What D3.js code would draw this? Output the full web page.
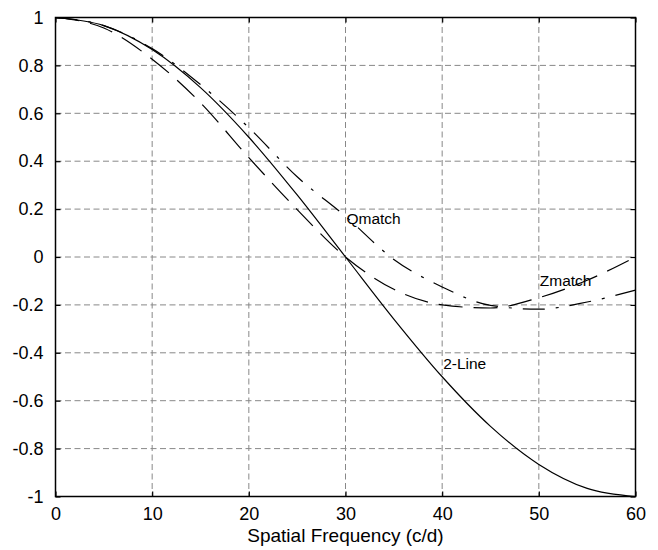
<!DOCTYPE html>
<html>
<head>
<meta charset="utf-8">
<script src="https://cdn.jsdelivr.net/npm/d3@7"></script>
<style>
  body { margin: 0; background: #fff; }
  text { font-family: "Liberation Sans", Arial, sans-serif; fill: #000; }
</style>
</head>
<body>
<div id="chart"></div>
<script>
// values, every 5 c/d
const freq = [0, 5, 10, 15, 20, 25, 30, 35, 40, 45, 50, 55, 60];
const twoLine = [1, 0.966, 0.866, 0.707, 0.5, 0.259, 0, -0.259, -0.5, -0.707, -0.866, -0.966, -1];
const zmatch = [1, 0.956, 0.826, 0.644, 0.415, 0.198, 0, -0.135, -0.2, -0.213, -0.17, -0.097, 0];
const qmatch = [1, 0.966, 0.87, 0.72, 0.54, 0.335, 0.17, -0.01, -0.125, -0.202, -0.218, -0.188, -0.138];

const xTicks = [0, 10, 20, 30, 40, 50, 60];
const yTicks = [1, 0.8, 0.6, 0.4, 0.2, 0, -0.2, -0.4, -0.6, -0.8, -1];
const yTickLabels = ['1', '0.8', '0.6', '0.4', '0.2', '0', '-0.2', '-0.4', '-0.6', '-0.8', '-1'];

const width = 658,
      height = 550,
      margin = {top: 17.5, right: 22.5, bottom: 53.5, left: 55.5};

const w = width - margin.left - margin.right,
      h = height - margin.top - margin.bottom;

const svg = d3.select('#chart').append('svg')
  .attr('width', width)
  .attr('height', height);

const g = svg.append('g').attr('transform', `translate(${margin.left},${margin.top})`);

const x = d3.scaleLinear().domain([0, 60]).range([0, w]);
const y = d3.scaleLinear().domain([-1, 1]).range([h, 0]);

// dashed grid
g.append('g').selectAll('line.vg')
  .data(xTicks.slice(1, -1))
  .enter().append('line')
  .attr('x1', d => x(d)).attr('x2', d => x(d))
  .attr('y1', 0).attr('y2', h)
  .attr('stroke', '#888').attr('stroke-width', 1).attr('stroke-dasharray', '6,3.5');

g.append('g').selectAll('line.hg')
  .data(yTicks.slice(1, -1))
  .enter().append('line')
  .attr('x1', 0).attr('x2', w)
  .attr('y1', d => y(d)).attr('y2', d => y(d))
  .attr('stroke', '#888').attr('stroke-width', 1).attr('stroke-dasharray', '6,3.5');

// axes, ticks pointing inward
const styleAxis = sel => {
  sel.select('.domain').remove();
  sel.selectAll('.tick line').attr('stroke', '#000').attr('stroke-width', 1.2);
  sel.selectAll('text').style('font-size', '18px').attr('fill', '#000');
};

g.append('g').attr('transform', `translate(0,${h})`)
  .call(d3.axisBottom(x).tickValues(xTicks).tickSize(-5).tickPadding(11).tickFormat(d3.format('d')))
  .call(styleAxis);

g.append('g')
  .call(d3.axisTop(x).tickValues(xTicks).tickSize(-5).tickFormat(''))
  .call(styleAxis);

g.append('g')
  .call(d3.axisLeft(y).tickValues(yTicks).tickSize(-5).tickPadding(12).tickFormat((d, i) => yTickLabels[i]))
  .call(styleAxis);

g.append('g').attr('transform', `translate(${w},0)`)
  .call(d3.axisRight(y).tickValues(yTicks).tickSize(-5).tickFormat(''))
  .call(styleAxis);

// frame
g.append('rect')
  .attr('width', w).attr('height', h)
  .attr('fill', 'none').attr('stroke', '#000').attr('stroke-width', 1.5);

// curves
const line = d3.line()
  .x((d, i) => x(freq[i]))
  .y(d => y(d))
  .curve(d3.curveMonotoneX);

const series = [
  {name: '2-Line', values: twoLine, dash: null},
  {name: 'Zmatch', values: zmatch, dash: '24,11'},
  {name: 'Qmatch', values: qmatch, dash: '22,11,3,11'}
];

g.selectAll('path.curve')
  .data(series)
  .enter().append('path')
  .attr('class', 'curve')
  .attr('d', d => line(d.values))
  .attr('fill', 'none')
  .attr('stroke', '#000')
  .attr('stroke-width', 1.2)
  .attr('stroke-dasharray', d => d.dash);

// labels on curves
const notes = [
  {text: 'Qmatch', f: 30.1, v: 0.137},
  {text: 'Zmatch', f: 50.1, v: -0.122},
  {text: '2-Line', f: 40.1, v: -0.468}
];

g.selectAll('text.note')
  .data(notes)
  .enter().append('text')
  .attr('class', 'note')
  .attr('x', d => x(d.f))
  .attr('y', d => y(d.v))
  .style('font-size', '15.5px')
  .text(d => d.text);

// x axis title
svg.append('text')
  .attr('x', margin.left + w / 2)
  .attr('y', 542)
  .attr('text-anchor', 'middle')
  .style('font-size', '19px')
  .text('Spatial Frequency (c/d)');
</script>
</body>
</html>
